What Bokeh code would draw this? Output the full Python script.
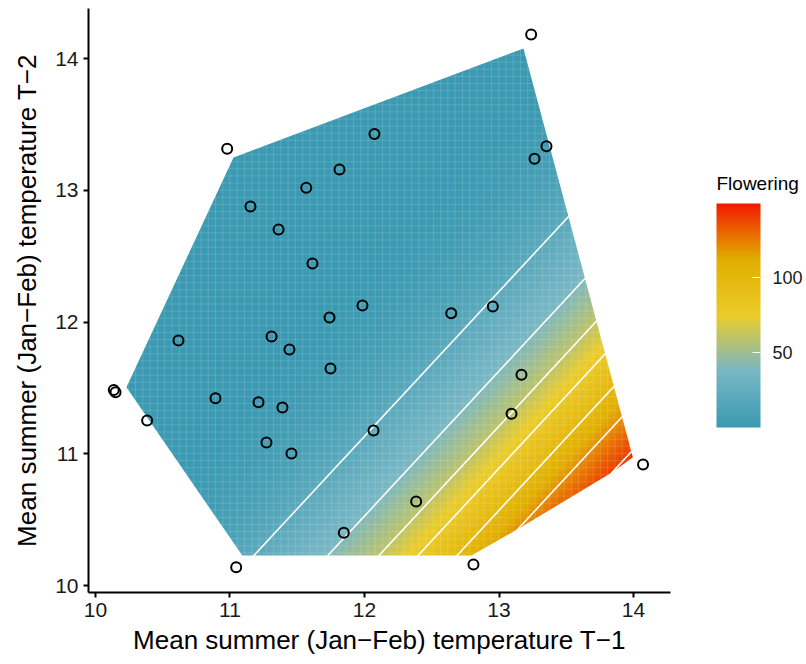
import numpy as np
from bokeh.plotting import figure
from bokeh.models import LinearColorMapper, ColorBar, FixedTicker, Range1d, Label
from bokeh.embed import file_html
from bokeh.resources import INLINE

# ---- observed years: mean summer temperature at T-1 and T-2 ----
temp_t1 = [13.239, 10.979, 12.074, 13.353, 13.264, 11.814, 11.567, 11.152, 11.361,
           11.613, 11.985, 11.740, 12.645, 12.954, 10.617, 11.309, 11.442, 11.747,
           10.136, 10.149, 10.892, 11.212, 11.390, 10.384, 13.167, 13.093, 12.067,
           11.271, 11.457, 14.071, 12.384, 11.846, 11.046, 12.810]
temp_t2 = [14.182, 13.315, 13.428, 13.334, 13.239, 13.158, 13.019, 12.877, 12.702,
           12.444, 12.125, 12.034, 12.067, 12.118, 11.860, 11.890, 11.791, 11.647,
           11.485, 11.467, 11.422, 11.391, 11.351, 11.252, 11.599, 11.303, 11.176,
           11.085, 11.002, 10.918, 10.638, 10.400, 10.139, 10.159]

# ---- region where the model prediction is shown (outline) ----
hull_t1 = [11.026, 13.182, 13.995, 13.842, 13.160, 12.796, 11.091, 10.230]
hull_t2 = [13.249, 14.076, 10.974, 10.860, 10.440, 10.228, 10.228, 11.505]

# ---- predicted flowering along the gradient direction (u = T1 - T2 / slope) ----
contour_slope = 1.1
gradient_u = [0.55, 1.00, 1.30, 1.60, 1.88, 2.43, 2.81, 3.10, 3.39, 3.66, 3.97, 4.10]
flowering_at_u = [0, 2, 6, 12, 20, 40, 60, 80, 100, 120, 140, 149]
contour_levels = [20, 40, 60, 80, 100, 120, 140]

colorbar_low, colorbar_high = 0.5, 149
colorbar_ticks = [50, 100]

# ---- palette (Zissou1) ----
anchors = ["#3B9AB2", "#78B7C5", "#EBCC2A", "#E1AF00", "#F21A00"]
rgb = np.array([[int(c[i:i + 2], 16) for i in (1, 3, 5)] for c in anchors], float)
pos = np.linspace(0, 1, len(anchors))
t = np.linspace(0, 1, 256)
palette = ["#%02x%02x%02x" % tuple(int(round(np.interp(tt, pos, rgb[:, k]))) for k in range(3)) for tt in t]

mapper = LinearColorMapper(palette=palette, low=colorbar_low, high=colorbar_high)

FONT = "Liberation Sans"

p = figure(width=806, height=664,
           x_range=Range1d(9.948, 14.275), y_range=Range1d(9.947, 14.38),
           output_backend="svg", toolbar_location=None,
           min_border_left=88, min_border_right=136, min_border_top=8, min_border_bottom=72)

# prediction surface (only within the bounding box of the shown region)
x_lo, x_hi = min(hull_t1) - 0.05, max(hull_t1) + 0.05
y_lo, y_hi = min(hull_t2) - 0.05, max(hull_t2) + 0.05
gx = np.linspace(x_lo, x_hi, 420)
gy = np.linspace(y_lo, y_hi, 400)
GX, GY = np.meshgrid(gx, gy)
U = GX - GY / contour_slope
Z = np.interp(U, gradient_u, flowering_at_u)
p.image(image=[Z], x=gx[0], y=gy[0], dw=gx[-1] - gx[0], dh=gy[-1] - gy[0], color_mapper=mapper)

# faint raster-cell texture
cell = 0.054
vx = np.arange(min(temp_t1), x_hi, cell)
hy = np.arange(min(temp_t2), y_hi, cell)
p.segment(x0=vx, y0=[y_lo] * len(vx), x1=vx, y1=[y_hi] * len(vx), line_color="white", line_alpha=0.14, line_width=1)
p.segment(x0=[x_lo] * len(hy), y0=hy, x1=[x_hi] * len(hy), y1=hy, line_color="white", line_alpha=0.14, line_width=1)

# contour lines
p.contour(x=gx, y=gy, z=Z, levels=contour_levels, line_color="white", line_width=1.6)

# white mask outside the prediction region
outer_x = [9.0, 15.5, 15.5, 9.0]
outer_y = [9.0, 9.0, 15.5, 15.5]
p.multi_polygons(xs=[[[outer_x, hull_t1]]], ys=[[[outer_y, hull_t2]]], fill_color="white", line_color=None)

# observations
p.scatter(temp_t1, temp_t2, size=10, fill_color=None, line_color="black", line_width=2)

# axes
for ax in (p.xaxis, p.yaxis):
    ax.ticker = [10, 11, 12, 13, 14]
    ax.axis_line_width = 2
    ax.axis_line_color = "black"
    ax.major_tick_line_width = 2
    ax.major_tick_out = 5
    ax.major_tick_in = 0
    ax.minor_tick_line_color = None
    ax.major_label_text_font = FONT
    ax.major_label_text_font_size = "21px"
    ax.major_label_text_color = "#1a1a1a"
    ax.axis_label_text_font = FONT
    ax.axis_label_text_font_size = "26px"
    ax.axis_label_text_font_style = "normal"
    ax.axis_label_text_color = "black"
p.yaxis.axis_label_standoff = 10
p.xaxis.axis_label = "Mean summer (Jan\u2212Feb) temperature T\u22121"
p.yaxis.axis_label = "Mean summer (Jan\u2212Feb) temperature T\u22122"
p.xgrid.visible = False
p.ygrid.visible = False
p.outline_line_color = None

cb = ColorBar(color_mapper=mapper, ticker=FixedTicker(ticks=colorbar_ticks),
              width=44, height=224, location=(628, 165), padding=0,
              title=None,
              major_label_text_font=FONT, major_label_text_font_size="18px",
              major_label_text_color="#1a1a1a", label_standoff=12,
              major_tick_line_color="white", major_tick_in=8, major_tick_out=0,
              minor_tick_line_color=None, bar_line_color=None, border_line_color=None,
              background_fill_alpha=0)
p.add_layout(cb, "center")

legend_title = Label(x=46, y=409, x_units="screen", y_units="screen", text="Flowering",
                     text_font=FONT, text_font_size="19px", text_color="black",
                     text_baseline="middle", text_align="left")
p.add_layout(legend_title, "right")

open("out.html", "w").write(file_html(p, INLINE))
